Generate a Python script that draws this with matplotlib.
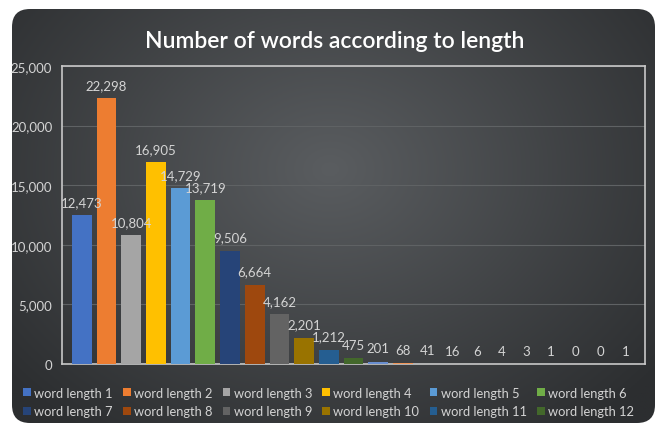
import numpy as np
import matplotlib
matplotlib.use("Agg")
import matplotlib.pyplot as plt
from matplotlib.patches import FancyBboxPatch, Patch
from matplotlib.ticker import FuncFormatter

# data
word_lengths = list(range(1, 24))
word_counts = [12473, 22298, 10804, 16905, 14729, 13719, 9506, 6664, 4162, 2201,
               1212, 475, 201, 68, 41, 16, 6, 4, 3, 1, 0, 0, 1]
bar_colors = ["#4472C4", "#ED7D31", "#A5A5A5", "#FFC000", "#5B9BD5", "#70AD47",
              "#264478", "#9E480E", "#636363", "#997300", "#255E91", "#43682B",
              "#698ED0", "#F1975A", "#B7B7B7", "#FFCD33", "#7CAFDD", "#8CC168",
              "#335AA1", "#D26012", "#848484", "#CC9A00", "#3275B5"]
legend_labels = ["word length %d" % n for n in range(1, 13)]
title = "Number of words according to length"

plt.rcParams["font.family"] = ["Lato", "DejaVu Sans"]

fig = plt.figure(figsize=(6.57, 4.27), dpi=100)
fig.patch.set_facecolor("white")

# dark rounded background with a soft radial gradient
bg = fig.add_axes([0, 0, 1, 1])
bg.set_xlim(0, 657)
bg.set_ylim(427, 0)
bg.axis("off")
box = FancyBboxPatch((12, 10), 643, 414, boxstyle="round,pad=0,rounding_size=18",
                     facecolor="none", edgecolor="none")
bg.add_patch(box)
xx, yy = np.meshgrid(np.linspace(0, 657, 300), np.linspace(0, 427, 200))
r = np.sqrt(((xx - 330) / 420) ** 2 + ((yy - 170) / 330) ** 2)
r = np.clip(r, 0, 1)
c0 = np.array([0x5a, 0x5d, 0x60]) / 255
c1 = np.array([0x2c, 0x2e, 0x30]) / 255
img = c0[None, None, :] * (1 - r[..., None]) + c1[None, None, :] * r[..., None]
im = bg.imshow(img, extent=(0, 657, 427, 0), aspect="auto", zorder=0)
im.set_clip_path(box)

ax = fig.add_axes([62 / 657, 62 / 427, 583 / 657, 298 / 427])
ax.set_facecolor("none")
x = np.arange(len(word_counts))
ax.bar(x, word_counts, width=0.8, color=bar_colors, zorder=3)
for xi, v in zip(x, word_counts):
    ax.text(xi, v + 600, f"{v:,}", ha="center", va="bottom", fontsize=9.5,
            color="#d4d4d4", zorder=4)

ax.set_xlim(-0.8, 22.8)
ax.set_ylim(0, 25000)
ax.set_yticks(range(0, 25001, 5000))
ax.yaxis.set_major_formatter(FuncFormatter(lambda v, p: f"{int(v):,}"))
ax.tick_params(axis="y", length=0, pad=7, labelsize=9.5, labelcolor="#d4d4d4")
ax.set_xticks([])
ax.grid(axis="y", color="#5f6264", linewidth=0.8, zorder=0)
for s in ax.spines.values():
    s.set_color("#c8c8c8")
    s.set_linewidth(1.2)

fig.text(0.51, 1 - 42 / 427, title, ha="center", va="center", fontsize=16.5,
         fontweight="semibold", color="white")

# legend filled row by row (matplotlib fills column by column)
order = [i + 6 * row for i in range(6) for row in range(2)]
handles = [Patch(facecolor=bar_colors[i]) for i in order]
labels = [legend_labels[i] for i in order]
fig.legend(handles, labels, loc="center", bbox_to_anchor=(0.5, 24 / 427),
           ncol=6, frameon=False, fontsize=9.3, labelcolor="#d4d4d4",
           handlelength=0.6, handleheight=0.6, handletextpad=0.25,
           columnspacing=0.8, labelspacing=0.5)

fig.savefig("out.png", dpi=100, facecolor="white")
